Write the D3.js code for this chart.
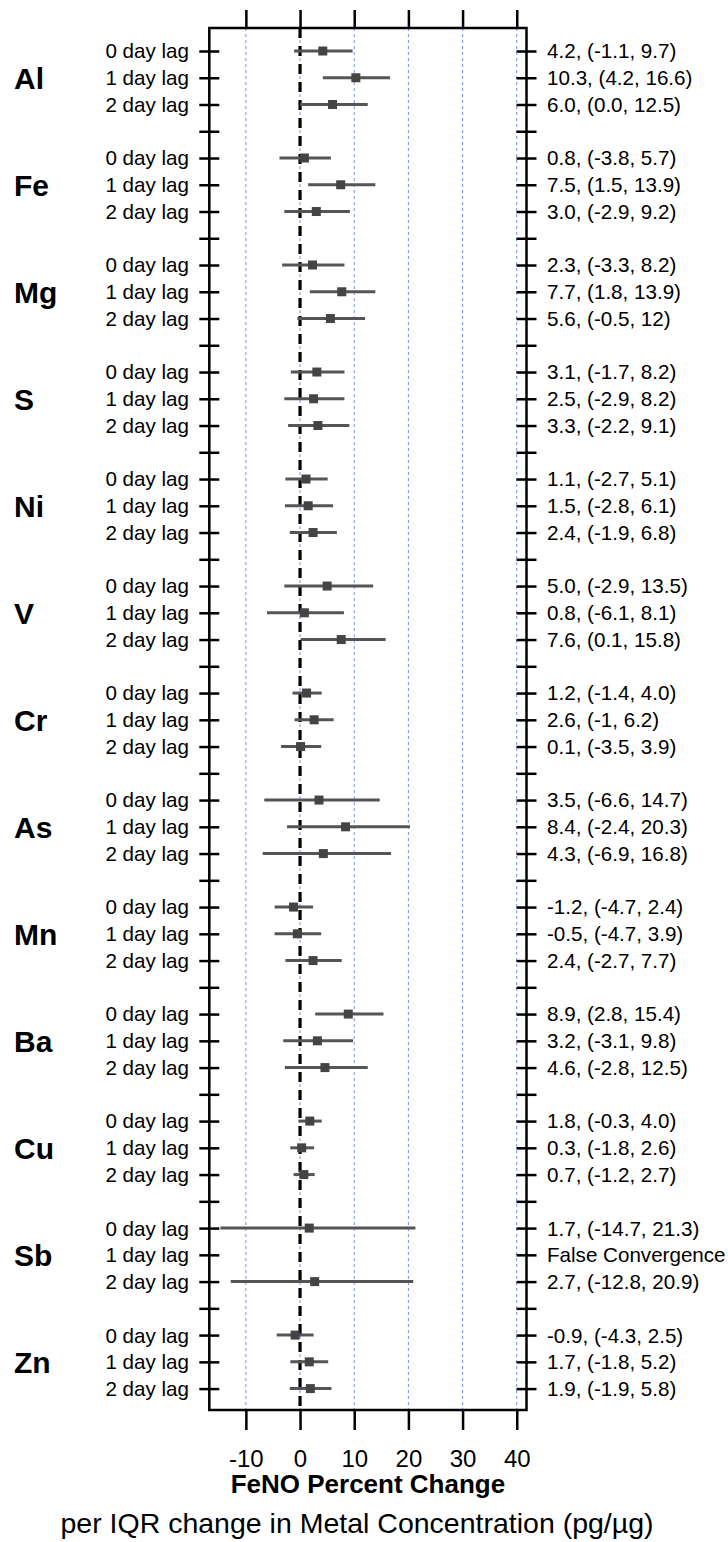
<html>
  <head>
    <meta charset="utf-8">
    <title>FeNO forest plot</title>
    <script src="https://cdn.jsdelivr.net/npm/d3@7"></script>
    <style type="text/css">
      body { margin: 0; background: #fff; }
      text { font-family: "Liberation Sans", Arial, Helvetica, sans-serif; fill: #000; }
      .grid line { stroke: #6f8fff; stroke-width: 1; stroke-dasharray: 3,3; }
      .bar { stroke: #555; stroke-width: 3; }
      .pt { fill: #444; }
      .ax path { display: none; }
      .ax line { stroke: #000; stroke-width: 2.5; }
    </style>
  </head>
  <body>
    <svg width="728" height="1542"></svg>
    <script>
      var metals = ['Al', 'Fe', 'Mg', 'S', 'Ni', 'V', 'Cr', 'As', 'Mn', 'Ba', 'Cu', 'Sb', 'Zn'];
      var lags = ['0 day lag', '1 day lag', '2 day lag'];
      // estimate, lower, upper: 3 lags per metal (null = no fit)
      var est = [4.2, 10.3, 6.0,  0.8, 7.5, 3.0,  2.3, 7.7, 5.6,  3.1, 2.5, 3.3,
                 1.1, 1.5, 2.4,  5.0, 0.8, 7.6,  1.2, 2.6, 0.1,  3.5, 8.4, 4.3,
                 -1.2, -0.5, 2.4,  8.9, 3.2, 4.6,  1.8, 0.3, 0.7,  1.7, null, 2.7,
                 -0.9, 1.7, 1.9];
      var lower = [-1.1, 4.2, 0.0,  -3.8, 1.5, -2.9,  -3.3, 1.8, -0.5,  -1.7, -2.9, -2.2,
                   -2.7, -2.8, -1.9,  -2.9, -6.1, 0.1,  -1.4, -1, -3.5,  -6.6, -2.4, -6.9,
                   -4.7, -4.7, -2.7,  2.8, -3.1, -2.8,  -0.3, -1.8, -1.2,  -14.7, null, -12.8,
                   -4.3, -1.8, -1.9];
      var upper = [9.7, 16.6, 12.5,  5.7, 13.9, 9.2,  8.2, 13.9, 12,  8.2, 8.2, 9.1,
                   5.1, 6.1, 6.8,  13.5, 8.1, 15.8,  4.0, 6.2, 3.9,  14.7, 20.3, 16.8,
                   2.4, 3.9, 7.7,  15.4, 9.8, 12.5,  4.0, 2.6, 2.7,  21.3, null, 20.9,
                   2.5, 5.2, 5.8];
      var rightLabels = [
        '4.2, (-1.1, 9.7)', '10.3, (4.2, 16.6)', '6.0, (0.0, 12.5)',
        '0.8, (-3.8, 5.7)', '7.5, (1.5, 13.9)', '3.0, (-2.9, 9.2)',
        '2.3, (-3.3, 8.2)', '7.7, (1.8, 13.9)', '5.6, (-0.5, 12)',
        '3.1, (-1.7, 8.2)', '2.5, (-2.9, 8.2)', '3.3, (-2.2, 9.1)',
        '1.1, (-2.7, 5.1)', '1.5, (-2.8, 6.1)', '2.4, (-1.9, 6.8)',
        '5.0, (-2.9, 13.5)', '0.8, (-6.1, 8.1)', '7.6, (0.1, 15.8)',
        '1.2, (-1.4, 4.0)', '2.6, (-1, 6.2)', '0.1, (-3.5, 3.9)',
        '3.5, (-6.6, 14.7)', '8.4, (-2.4, 20.3)', '4.3, (-6.9, 16.8)',
        '-1.2, (-4.7, 2.4)', '-0.5, (-4.7, 3.9)', '2.4, (-2.7, 7.7)',
        '8.9, (2.8, 15.4)', '3.2, (-3.1, 9.8)', '4.6, (-2.8, 12.5)',
        '1.8, (-0.3, 4.0)', '0.3, (-1.8, 2.6)', '0.7, (-1.2, 2.7)',
        '1.7, (-14.7, 21.3)', 'False Convergence', '2.7, (-12.8, 20.9)',
        '-0.9, (-4.3, 2.5)', '1.7, (-1.8, 5.2)', '1.9, (-1.9, 5.8)'
      ];
      var xTicks = [-10, 0, 10, 20, 30, 40];

      var pLeft = 209.3, pRight = 526.5, pTop = 28, pBottom = 1410;
      var x = d3.scaleLinear().domain([-16.75, 41.8]).range([pLeft, pRight]);
      var y = d3.scaleLinear().domain([-0.86, 50.8]).range([pTop, pBottom]);

      // one row per lag, blank row between metals
      var rows = [];
      metals.forEach(function(m, g) {
        lags.forEach(function(l, k) {
          var i = g * 3 + k;
          rows.push({metal: m, lag: l, pos: g * 4 + k, est: est[i], lo: lower[i], hi: upper[i], label: rightLabels[i]});
        });
      });
      var tickRows = d3.range(0, metals.length * 4 - 1);

      var svg = d3.select('svg');

      svg.append('g').attr('class', 'grid').selectAll('line')
        .data(xTicks).enter().append('line')
        .attr('x1', x).attr('x2', x).attr('y1', pTop).attr('y2', pBottom);

      svg.append('line')
        .attr('x1', x(0)).attr('x2', x(0)).attr('y1', pTop).attr('y2', pBottom)
        .attr('stroke', '#000').attr('stroke-width', 3.2).attr('stroke-dasharray', '10,8');

      var fit = rows.filter(function(d) { return d.est !== null; });
      svg.append('g').selectAll('line').data(fit).enter().append('line')
        .attr('class', 'bar')
        .attr('x1', function(d) { return x(d.lo); })
        .attr('x2', function(d) { return x(d.hi); })
        .attr('y1', function(d) { return y(d.pos); })
        .attr('y2', function(d) { return y(d.pos); });
      svg.append('g').selectAll('rect').data(fit).enter().append('rect')
        .attr('class', 'pt')
        .attr('x', function(d) { return x(d.est) - 4.5; })
        .attr('y', function(d) { return y(d.pos) - 4.5; })
        .attr('width', 9).attr('height', 9);

      // frame
      svg.append('rect').attr('x', pLeft).attr('y', pTop)
        .attr('width', pRight - pLeft).attr('height', pBottom - pTop)
        .attr('fill', 'none').attr('stroke', '#000').attr('stroke-width', 2.5);

      svg.append('g').attr('class', 'ax').attr('transform', 'translate(0,' + pTop + ')')
        .call(d3.axisTop(x).tickValues(xTicks).tickSize(18).tickSizeOuter(0).tickFormat(''));
      var bx = svg.append('g').attr('class', 'ax').attr('transform', 'translate(0,' + pBottom + ')')
        .call(d3.axisBottom(x).tickValues(xTicks).tickSize(20).tickSizeOuter(0).tickPadding(20)
          .tickFormat(function(d) { return String(d); }));
      bx.selectAll('text').style('font-size', '24px').attr('fill', '#000');

      svg.append('g').attr('class', 'ax').attr('transform', 'translate(' + (pLeft + 10) + ',0)')
        .call(d3.axisLeft(y).tickValues(tickRows).tickSize(20).tickSizeOuter(0).tickFormat(''));
      svg.append('g').attr('class', 'ax').attr('transform', 'translate(' + (pRight - 10) + ',0)')
        .call(d3.axisRight(y).tickValues(tickRows).tickSize(20).tickSizeOuter(0).tickFormat(''));

      svg.append('g').selectAll('text').data(rows).enter().append('text')
        .attr('x', 189).attr('y', function(d) { return y(d.pos); })
        .attr('dy', '0.36em').attr('text-anchor', 'end')
        .style('font-size', '20.6px').text(function(d) { return d.lag; });

      svg.append('g').selectAll('text').data(rows).enter().append('text')
        .attr('x', 547).attr('y', function(d) { return y(d.pos); })
        .attr('dy', '0.36em')
        .style('font-size', '20.6px').text(function(d) { return d.label; });

      svg.append('g').selectAll('text').data(metals).enter().append('text')
        .attr('x', 14).attr('y', function(d, g) { return y(g * 4 + 1); })
        .attr('dy', '0.36em')
        .style('font-size', '30px').style('font-weight', 'bold')
        .text(function(d) { return d; });

      svg.append('text').attr('x', (pLeft + pRight) / 2).attr('y', 1493)
        .attr('text-anchor', 'middle').style('font-size', '26px').style('font-weight', 'bold')
        .text('FeNO Percent Change');
      svg.append('text').attr('x', 357).attr('y', 1533)
        .attr('text-anchor', 'middle').style('font-size', '28.5px')
        .text('per IQR change in Metal Concentration (pg/µg)');
    </script>
  </body>
</html>
